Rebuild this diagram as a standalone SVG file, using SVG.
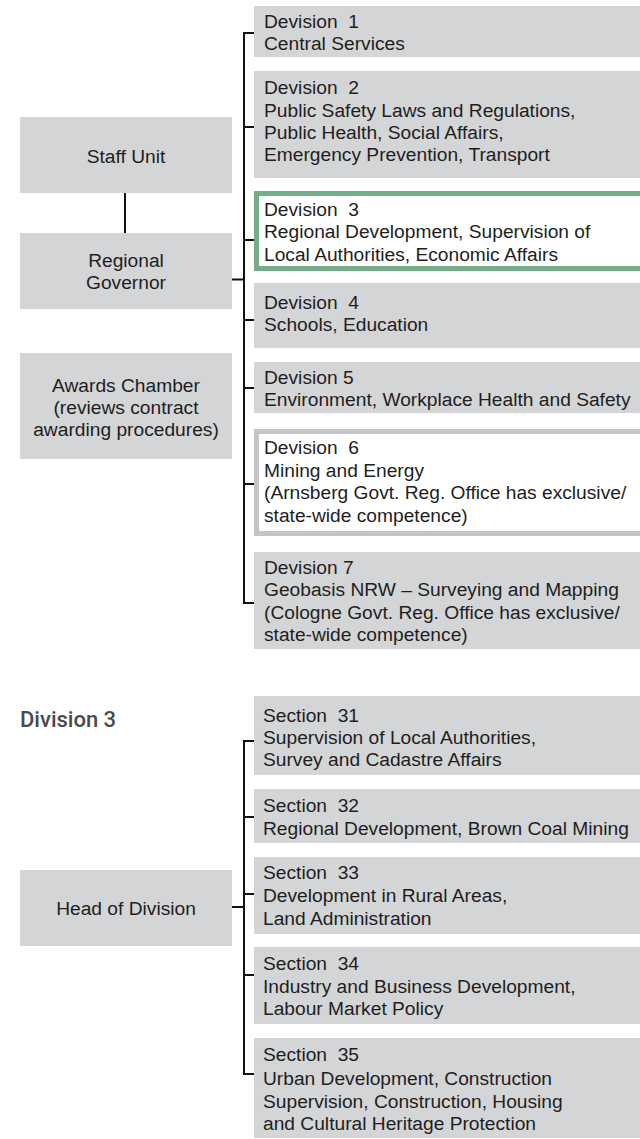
<svg xmlns="http://www.w3.org/2000/svg" width="640" height="1139" viewBox="0 0 640 1139">
<style>
.box{fill:#d4d5d7}
.t{font-family:"Liberation Sans",Arial,sans-serif;font-size:19.2px;fill:#1e1e1e;white-space:pre}
.c{text-anchor:middle}
.conn{fill:none;stroke:#111;stroke-width:2}
.lbl{font-family:Roboto,"Liberation Sans",sans-serif;font-size:22px;font-weight:500;fill:#4a4a4a}
</style>
<rect width="640" height="1139" fill="#fff"/>
<g id="connectors">
<path class="conn" d="M125,193 V233"/>
<path class="conn" d="M254,33 H244 V603 H254"/>
<path class="conn" d="M244,127 H254 M244,240 H254 M244,320 H254 M244,388 H254 M244,484 H254"/>
<path class="conn" d="M232,279.5 H244"/>
<path class="conn" d="M254,741 H244 V1074 H254"/>
<path class="conn" d="M244,817 H254 M244,894 H254 M244,975 H254"/>
<path class="conn" d="M232,907 H244"/>
</g>
<g id="staff-unit"><rect class="box" x="20" y="117" width="212" height="76"/><text class="t c" x="126" y="163">Staff Unit</text></g>
<g id="regional-governor"><rect class="box" x="20" y="233" width="212" height="76"/><text class="t c" x="126" y="266.5">Regional</text><text class="t c" x="126" y="289">Governor</text></g>
<g id="awards-chamber"><rect class="box" x="20" y="353" width="212" height="106"/><text class="t c" x="126" y="392">Awards Chamber</text><text class="t c" x="126" y="414">(reviews contract</text><text class="t c" x="126" y="436">awarding procedures)</text></g>
<g id="div1"><rect class="box" x="254" y="6" width="386" height="51"/><text class="t" x="264" y="27.5">Devision  1</text><text class="t" x="264" y="50">Central Services</text></g>
<g id="div2"><rect class="box" x="254" y="71" width="386" height="107"/><text class="t" x="264" y="94">Devision  2</text><text class="t" x="264" y="116.5">Public Safety Laws and Regulations,</text><text class="t" x="264" y="139">Public Health, Social Affairs,</text><text class="t" x="264" y="161">Emergency Prevention, Transport</text></g>
<g id="div3"><rect x="256.5" y="193.5" width="386" height="75" fill="#fff" stroke="#74ad87" stroke-width="5"/><text class="t" x="264" y="215.5">Devision  3</text><text class="t" x="264" y="238">Regional Development, Supervision of</text><text class="t" x="264" y="260.5">Local Authorities, Economic Affairs</text></g>
<g id="div4"><rect class="box" x="254" y="283" width="386" height="65"/><text class="t" x="264" y="309">Devision  4</text><text class="t" x="264" y="331">Schools, Education</text></g>
<g id="div5"><rect class="box" x="254" y="362" width="386" height="51"/><text class="t" x="264" y="383.5">Devision 5</text><text class="t" x="264" y="406">Environment, Workplace Health and Safety</text></g>
<g id="div6"><rect x="256.5" y="431.5" width="386" height="102" fill="#fff" stroke="#c4c5c7" stroke-width="5"/><text class="t" x="264" y="454">Devision  6</text><text class="t" x="264" y="476.5">Mining and Energy</text><text class="t" x="264" y="499">(Arnsberg Govt. Reg. Office has exclusive/</text><text class="t" x="264" y="521.5">state-wide competence)</text></g>
<g id="div7"><rect class="box" x="254" y="552" width="386" height="97"/><text class="t" x="264" y="573.5">Devision 7</text><text class="t" x="264" y="596">Geobasis NRW – Surveying and Mapping</text><text class="t" x="264" y="618.5">(Cologne Govt. Reg. Office has exclusive/</text><text class="t" x="264" y="640.5">state-wide competence)</text></g>
<g id="division3-label"><text class="lbl" x="20" y="727">Division 3</text></g>
<g id="head-of-division"><rect class="box" x="20" y="870" width="212" height="76"/><text class="t c" x="126" y="915">Head of Division</text></g>
<g id="sec31"><rect class="box" x="254" y="696" width="386" height="79"/><text class="t" x="263" y="721.5">Section  31</text><text class="t" x="263" y="744">Supervision of Local Authorities,</text><text class="t" x="263" y="766">Survey and Cadastre Affairs</text></g>
<g id="sec32"><rect class="box" x="254" y="789" width="386" height="54"/><text class="t" x="263" y="811.5">Section  32</text><text class="t" x="263" y="834.5">Regional Development, Brown Coal Mining</text></g>
<g id="sec33"><rect class="box" x="254" y="857" width="386" height="77"/><text class="t" x="263" y="879">Section  33</text><text class="t" x="263" y="902">Development in Rural Areas,</text><text class="t" x="263" y="925">Land Administration</text></g>
<g id="sec34"><rect class="box" x="254" y="947" width="386" height="77"/><text class="t" x="263" y="970">Section  34</text><text class="t" x="263" y="992.5">Industry and Business Development,</text><text class="t" x="263" y="1015">Labour Market Policy</text></g>
<g id="sec35"><rect class="box" x="254" y="1038" width="386" height="100"/><text class="t" x="263" y="1061">Section  35</text><text class="t" x="263" y="1085">Urban Development, Construction</text><text class="t" x="263" y="1107.5">Supervision, Construction, Housing</text><text class="t" x="263" y="1130">and Cultural Heritage Protection</text></g>
</svg>
